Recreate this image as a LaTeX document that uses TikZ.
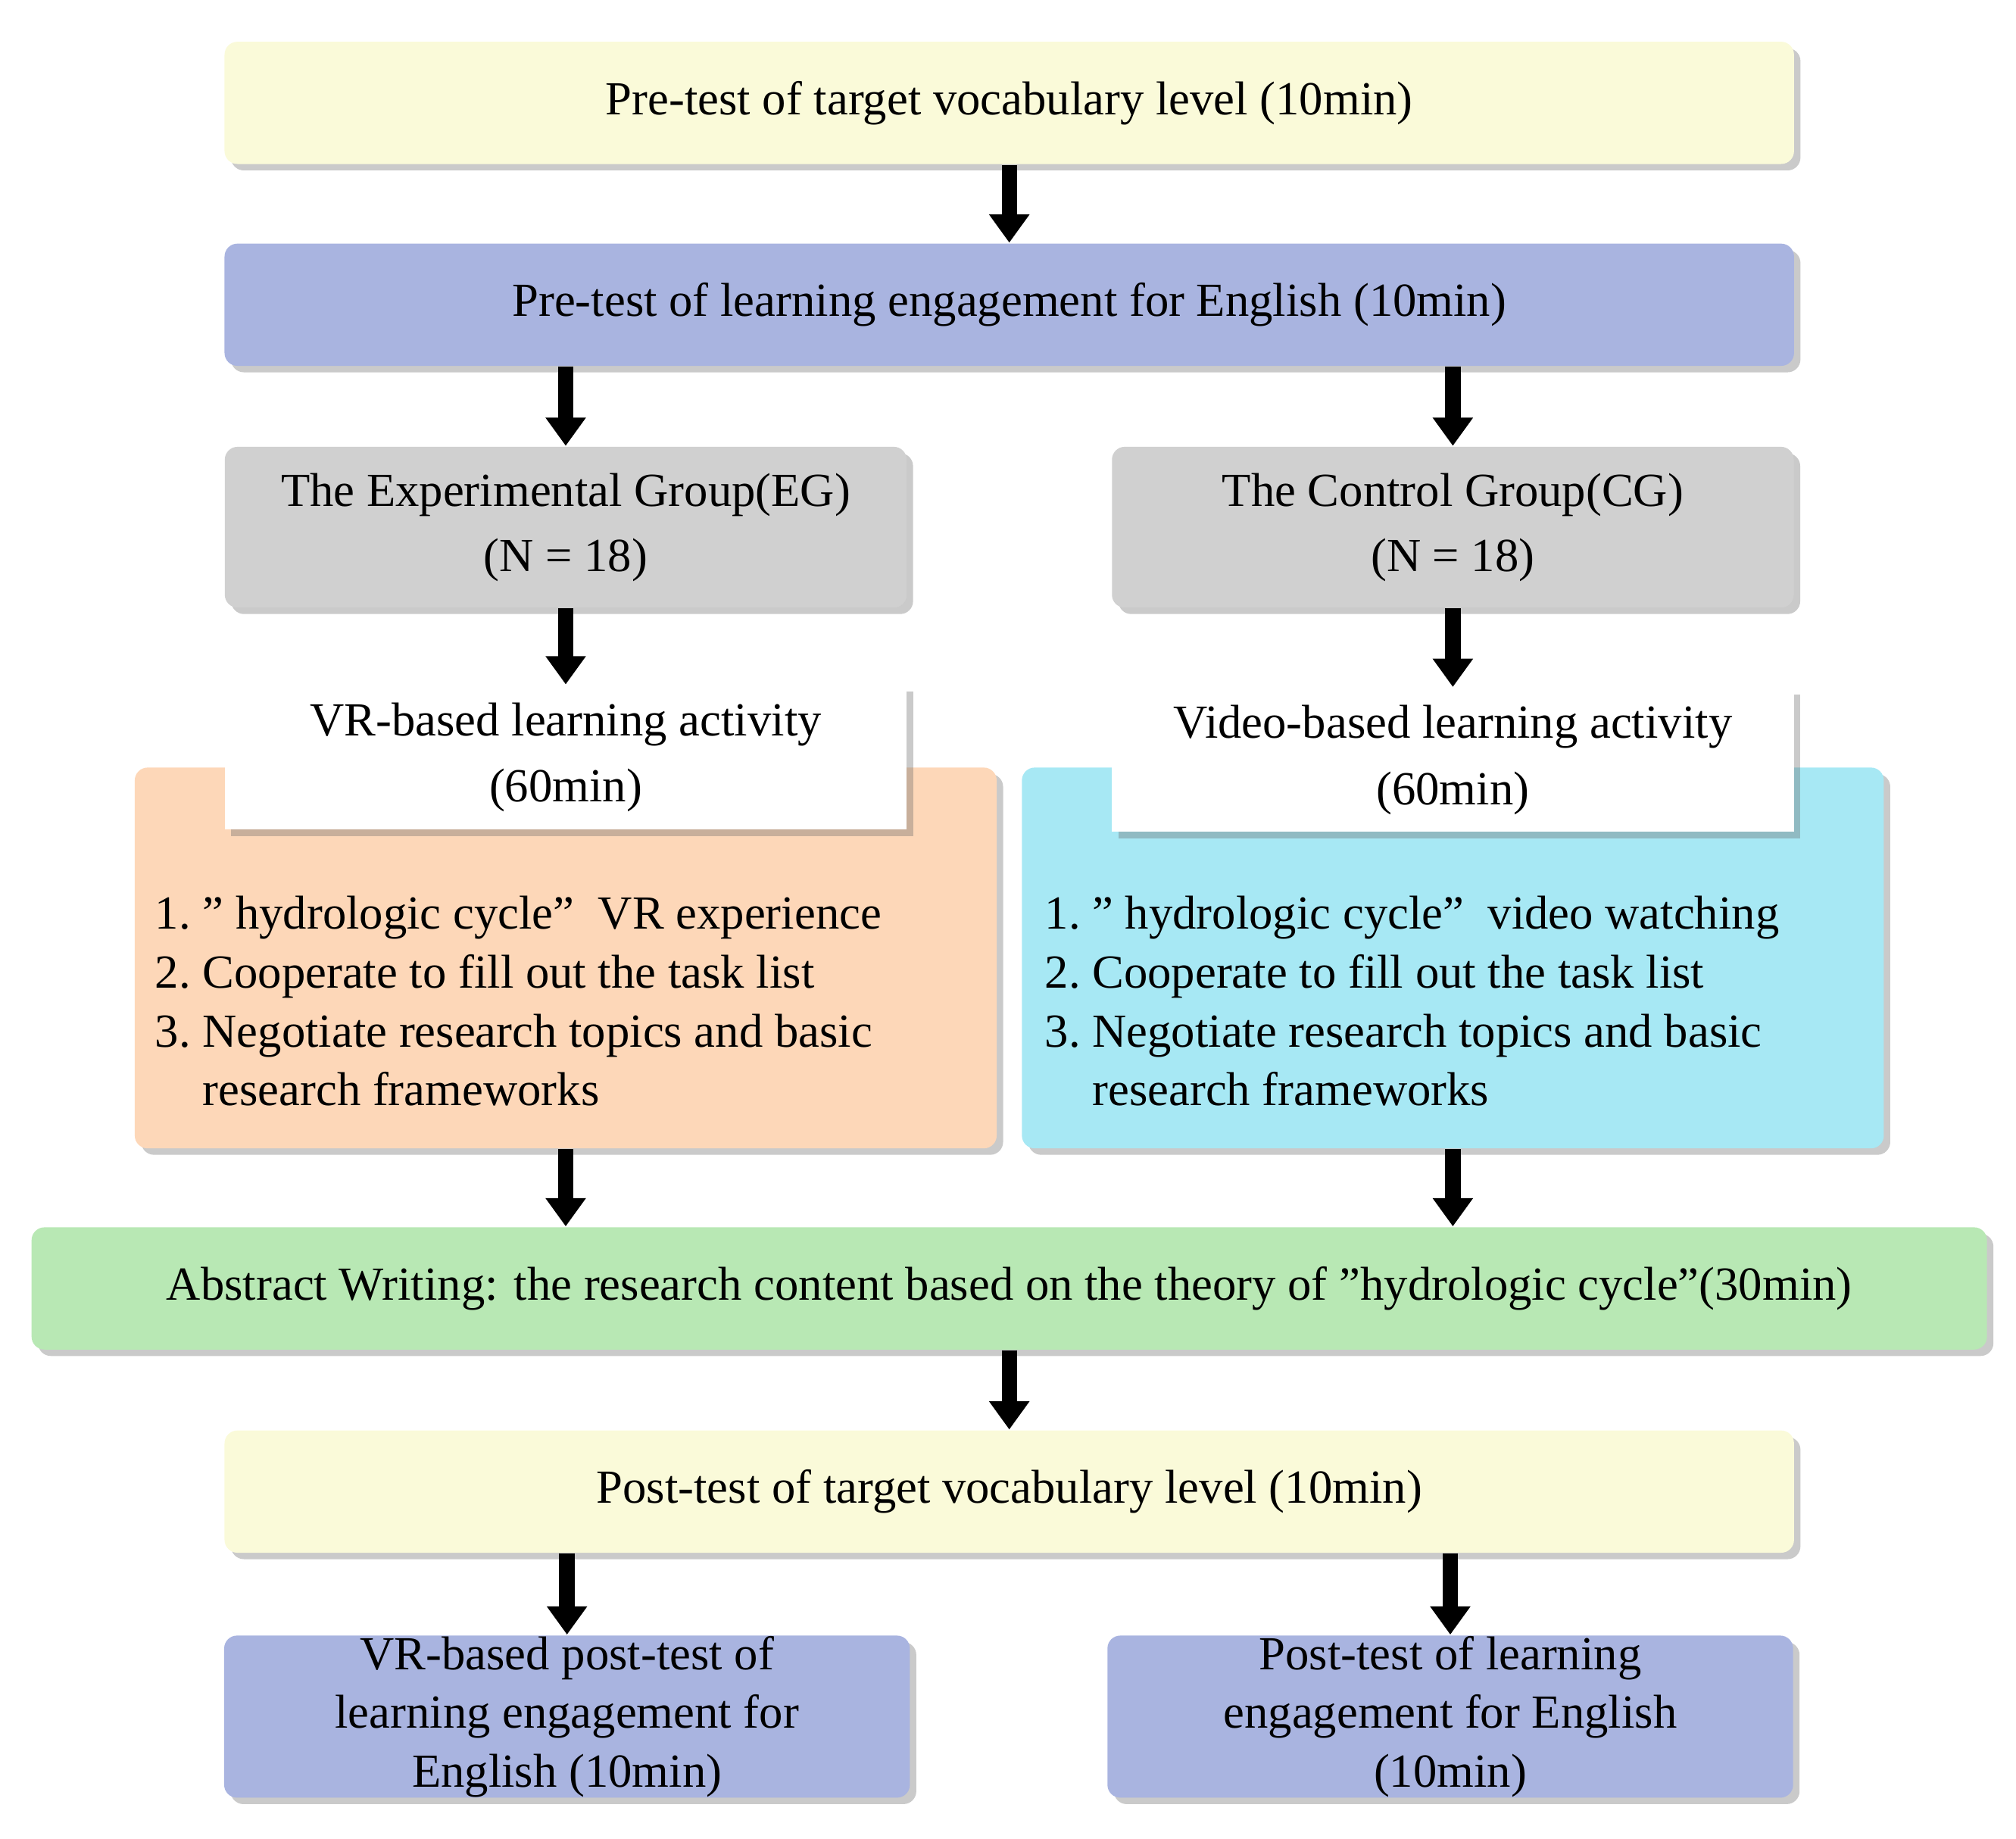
\documentclass[tikz,border=0pt]{standalone}
\usepackage{fontspec}
\setmainfont{Liberation Serif}
\usetikzlibrary{shadows,arrows.meta}
\definecolor{cyel}{HTML}{FAFAD9}
\definecolor{cblue}{HTML}{A9B4E0}
\definecolor{cgrey}{HTML}{D0D0D0}
\definecolor{corange}{HTML}{FDD7B8}
\definecolor{ccyan}{HTML}{A7E8F4}
\definecolor{cgreen}{HTML}{B8E8B4}
\begin{document}
\begin{tikzpicture}[x=0.01cm,y=-0.01cm,
  font=\fontsize{10.5}{13}\selectfont,
  box/.style={rounded corners=0.1cm, draw=none, align=center, inner sep=0pt,
    drop shadow={shadow xshift=0.05cm, shadow yshift=-0.05cm, opacity=0.35, fill=black!60}},
  wbox/.style={draw=none, fill=white, align=center, inner sep=0pt,
    drop shadow={shadow xshift=0.05cm, shadow yshift=-0.05cm, opacity=0.35, fill=black!60}},
  arr/.style={line width=0.12cm, -{Triangle[width=0.3cm,length=0.22cm]}},
  lst/.style={align=left, inner sep=0pt, anchor=north west}]
\useasboundingbox (0,0) rectangle (1568,1430);
\node[box, fill=cyel, minimum width=12.2cm, minimum height=0.95cm] (b1) at (785,80) {Pre-test of target vocabulary level (10min)};
\node[box, fill=cblue, minimum width=12.2cm, minimum height=0.95cm] (b2) at (785,237) {Pre-test of learning engagement for English (10min)};
\node[box, fill=cgrey, minimum width=5.3cm, minimum height=1.25cm] (gl) at (440,410) {The Experimental Group(EG)\\[0.05cm](N = 18)};
\node[box, fill=cgrey, minimum width=5.3cm, minimum height=1.25cm] (gr) at (1130,410) {The Control Group(CG)\\[0.05cm](N = 18)};
\node[box, fill=corange, minimum width=6.7cm, minimum height=2.96cm] (ol) at (440,745) {};
\node[box, fill=ccyan, minimum width=6.7cm, minimum height=2.96cm] (cr) at (1130,745) {};
\node[wbox, minimum width=5.3cm, minimum height=1.12cm] (wl) at (440,589) {VR-based learning activity\\[0.06cm](60min)};
\node[wbox, minimum width=5.3cm, minimum height=1.12cm] (wr) at (1130,591) {Video-based learning activity\\[0.06cm](60min)};
\node[lst] (tl) at (120,690) {\begin{tabular}{@{}l@{\ }l@{}}1. & " hydrologic cycle"\ \ VR experience\\ 2. & Cooperate to fill out the task list\\ 3. & Negotiate research topics and basic\\ & research frameworks\end{tabular}};
\node[lst] (tr) at (812,690) {\begin{tabular}{@{}l@{\ }l@{}}1. & " hydrologic cycle"\ \ video watching\\ 2. & Cooperate to fill out the task list\\ 3. & Negotiate research topics and basic\\ & research frameworks\end{tabular}};
\node[box, fill=cgreen, minimum width=15.2cm, minimum height=0.95cm] (g) at (785,1002) {Abstract Writing: the research content based on the theory of "hydrologic cycle"(30min)};
\node[box, fill=cyel, minimum width=12.2cm, minimum height=0.95cm] (b3) at (785,1160) {Post-test of target vocabulary level (10min)};
\node[box, fill=cblue, minimum width=5.33cm, minimum height=1.26cm] (pl) at (441,1335) {VR-based post-test of\\learning engagement for\\English (10min)};
\node[box, fill=cblue, minimum width=5.33cm, minimum height=1.26cm] (pr) at (1128,1335) {Post-test of learning\\engagement for English\\(10min)};
\draw[arr] (b1.south) -- (b2.north);
\draw[arr] (b2.south -| gl.north) -- (gl.north);
\draw[arr] (b2.south -| gr.north) -- (gr.north);
\draw[arr] (gl.south) -- (wl.north);
\draw[arr] (gr.south) -- (wr.north);
\draw[arr] (ol.south) -- (g.north -| ol.south);
\draw[arr] (cr.south) -- (g.north -| cr.south);
\draw[arr] (g.south) -- (b3.north);
\draw[arr] (b3.south -| pl.north) -- (pl.north);
\draw[arr] (b3.south -| pr.north) -- (pr.north);
\end{tikzpicture}
\end{document}
